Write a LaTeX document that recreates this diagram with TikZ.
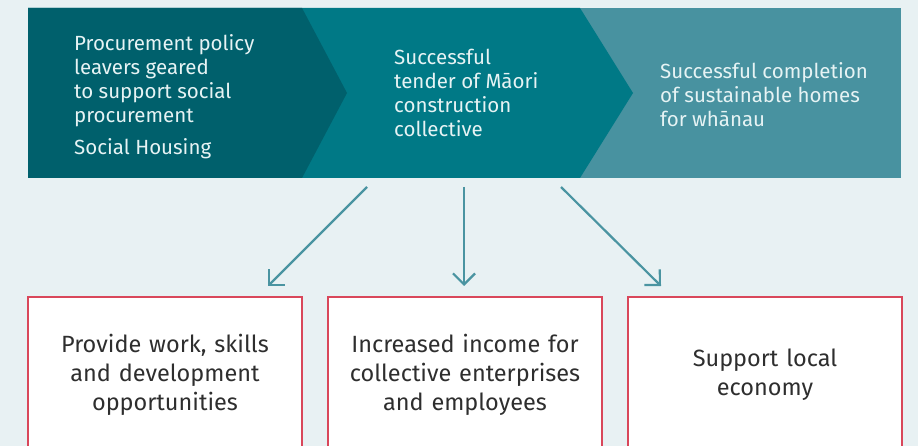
\documentclass[tikz,border=0pt]{standalone}
\usepackage{fontspec}
\setmainfont{Fira Sans}
\usetikzlibrary{arrows.meta}

\definecolor{pagebg}{HTML}{E8F1F3}
\definecolor{darkteal}{HTML}{00606C}
\definecolor{midteal}{HTML}{007986}
\definecolor{lightteal}{HTML}{4892A0}
\definecolor{steptxt}{HTML}{E6F3F4}
\definecolor{arrowteal}{HTML}{4A94A1}
\definecolor{outred}{HTML}{D9475A}
\definecolor{outtxt}{HTML}{2E2E2E}

\begin{document}
\begin{tikzpicture}[x=1pt,y=-1pt,
  steptext/.style={text=steptxt, font=\fontsize{20.5}{24}\selectfont, align=left, anchor=north west, inner sep=0pt},
  outcome/.style={draw=outred, line width=2pt, fill=white, minimum width=274pt, minimum height=156pt, text width=260pt, align=center, inner sep=0pt, text=outtxt, font=\fontsize{23.5}{29}\selectfont},
  link/.style={draw=arrowteal, line width=2.2pt, -{Straight Barb[length=11pt,width=22pt]}}]

\def\bandtop{8};
\def\bandbot{178};
\def\bandmid{93};

\fill[pagebg] (0,0) rectangle (918,446);
\clip (0,0) rectangle (918,446);

% chevron band
\fill[lightteal] (28,\bandtop) rectangle (901,\bandbot);
\fill[midteal] (28,\bandtop) -- (580,\bandtop) -- (633,\bandmid) -- (580,\bandbot) -- (28,\bandbot) -- cycle;
\fill[darkteal] (28,\bandtop) -- (302,\bandtop) -- (347,\bandmid) -- (302,\bandbot) -- (28,\bandbot) -- cycle;

\node[steptext] (policy) at (74,34) {Procurement policy\\leavers geared\\to support social\\procurement\\[8pt]Social Housing};
\node[steptext] (tender) at (394,49) {Successful\\tender of Māori\\construction\\collective};
\node[steptext] (homes) at (660,62) {Successful completion\\of sustainable homes\\for whānau};

% outcomes
\node[outcome] (skills) at (165,375) {Provide work, skills\\and development\\opportunities};
\node[outcome] (income) at (465,375) {Increased income for\\collective enterprises\\and employees};
\node[outcome] (economy) at (765,375) {Support local\\economy};

\coordinate (s1) at (367,187);
\coordinate (e1) at (268,286);
\coordinate (s2) at (464,187);
\coordinate (e2) at (464,286);
\coordinate (s3) at (561,187);
\coordinate (e3) at (661,286);

\draw[link] (s1) -- (e1);
\draw[link] (s2) -- (e2);
\draw[link] (s3) -- (e3);
\end{tikzpicture}
\end{document}
